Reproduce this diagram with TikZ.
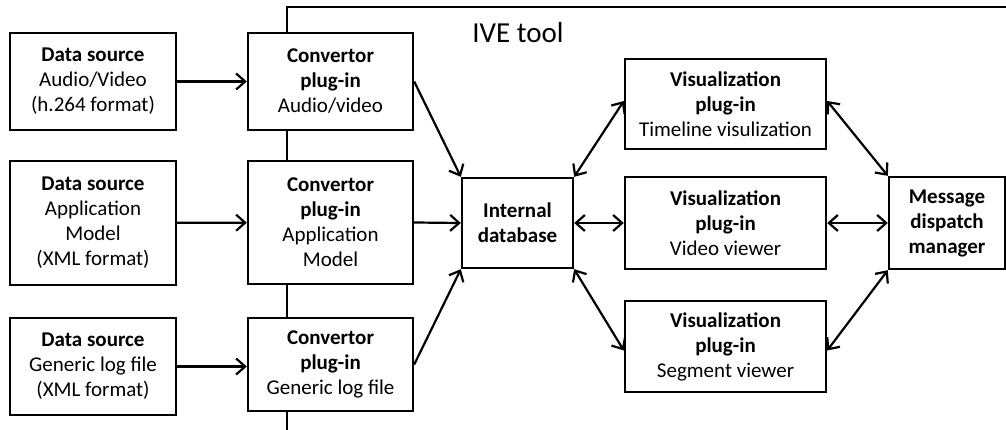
\documentclass[tikz,border=0pt]{standalone}
\usepackage{fontspec}
\setmainfont{Carlito}
\usetikzlibrary{arrows.meta}
\begin{document}
\begin{tikzpicture}[x=1pt,y=-1pt,
  box/.style={draw, line width=2.4pt, fill=white, align=center, inner sep=0pt,
    font=\fontsize{21}{25}\selectfont},
  tip/.style={Straight Barb[length=9pt,width=16pt,line width=2.2pt]},
  conn/.style={line width=2.2pt, -{Straight Barb[length=9pt,width=16pt,line width=2.2pt]}},
  bconn/.style={line width=2.2pt, {Straight Barb[length=9pt,width=16pt,line width=2.2pt]}-{Straight Barb[length=9pt,width=16pt,line width=2.2pt]}},
  frame/.style={line width=2.4pt}]
\useasboundingbox (0,0) rectangle (1006,430);
% IVE tool frame
\coordinate (fb) at (287,431);
\coordinate (ftl) at (287,7);
\coordinate (fr) at (1007,7);
\draw[frame] (fb) -- (ftl) -- (fr);
\node[font=\fontsize{29}{32}\selectfont] (ive) at (518,33) {IVE tool};
% data sources
\node[box, minimum width=166, minimum height=97] (ds1) at (93,81.5)
  {\textbf{Data source}\\Audio/Video\\(h.264 format)};
\node[box, minimum width=166, minimum height=124] (ds2) at (93,223)
  {\textbf{Data source}\\Application\\Model\\(XML format)};
\node[box, minimum width=166, minimum height=97] (ds3) at (93,366.5)
  {\textbf{Data source}\\Generic log file\\(XML format)};
% convertors
\node[box, minimum width=165, minimum height=97] (cv1) at (330.5,81.5)
  {\textbf{Convertor}\\\textbf{plug-in}\\Audio/video};
\node[box, minimum width=165, minimum height=123] (cv2) at (330.5,222.5)
  {\textbf{Convertor}\\\textbf{plug-in}\\Application\\Model};
\node[box, minimum width=165, minimum height=93] (cv3) at (330.5,364.5)
  {\textbf{Convertor}\\\textbf{plug-in}\\Generic log file};
% database
\node[box, minimum width=111, minimum height=90] (db) at (517.5,223)
  {\textbf{Internal}\\\textbf{database}};
% visualization
\node[box, minimum width=201, minimum height=90] (v1) at (725.5,104)
  {\textbf{Visualization}\\\textbf{plug-in}\\Timeline visulization};
\node[box, minimum width=201, minimum height=92] (v2) at (725.5,223)
  {\textbf{Visualization}\\\textbf{plug-in}\\Video viewer};
\node[box, minimum width=201, minimum height=91] (v3) at (725.5,346.5)
  {\textbf{Visualization}\\\textbf{plug-in}\\Segment viewer};
% message dispatch manager
\node[box, minimum width=116, minimum height=92] (mdm) at (947,223)
  {\textbf{Message}\\\textbf{dispatch}\\\textbf{manager}};
% connectors
\draw[conn] (ds1) -- (cv1);
\draw[conn] (ds2) -- (cv2);
\draw[conn] (ds3.east) -- (ds3.east -| cv3.west);
\draw[conn] (cv1.east) -- (db.north west);
\draw[conn] (cv2.east) -- (db.west);
\draw[conn] (cv3.east) -- (db.south west);
\draw[bconn] (db.north east) -- ([yshift=3pt]v1.west);
\draw[bconn] (db.east) -- (v2.west);
\draw[bconn] (db.south east) -- ([yshift=-4pt]v3.west);
\draw[bconn] ([yshift=3pt]v1.east) -- (mdm.north west);
\draw[bconn] (v2.east) -- (mdm.west);
\draw[bconn] ([yshift=-4pt]v3.east) -- (mdm.south west);
\end{tikzpicture}
\end{document}
